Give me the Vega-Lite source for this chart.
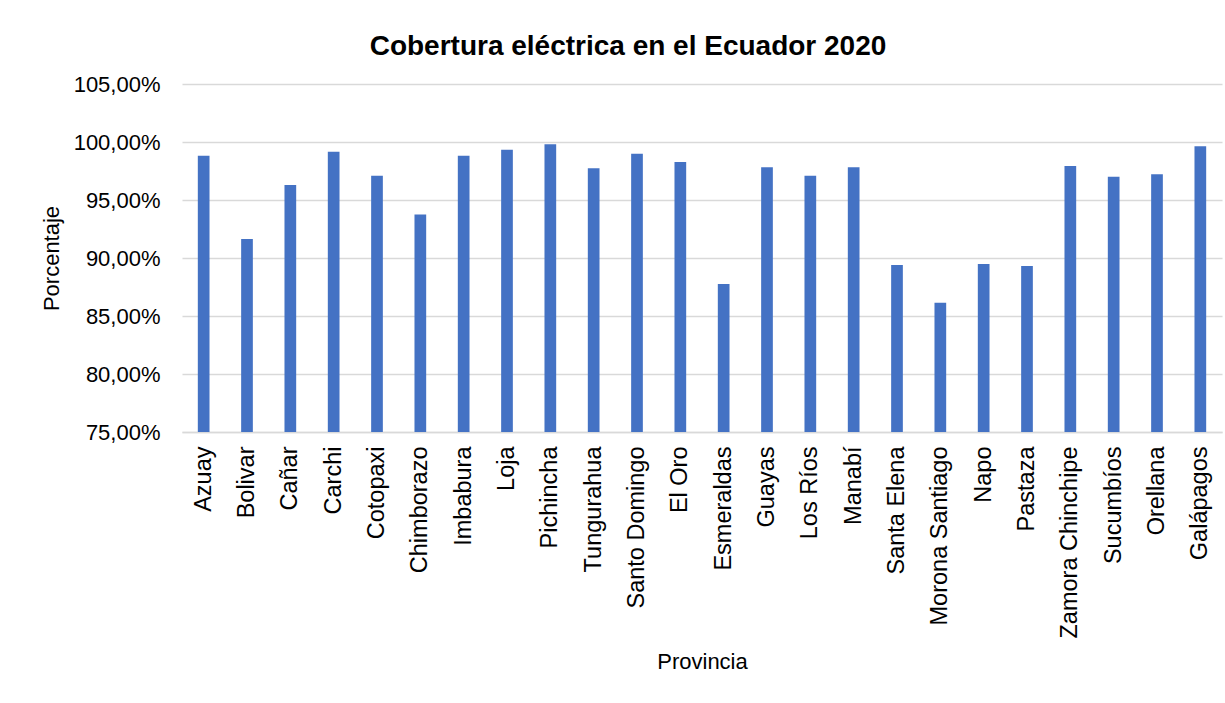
{
  "$schema": "https://vega.github.io/schema/vega-lite/v6.json",
  "width": 1040,
  "height": 348,
  "autosize": "none",
  "padding": {"left": 182, "top": 84, "right": 3, "bottom": 271},
  "background": "white",
  "title": {
    "text": "Cobertura eléctrica en el Ecuador 2020",
    "font": "Liberation Sans",
    "fontSize": 28,
    "fontWeight": "bold",
    "color": "#000000",
    "anchor": "middle",
    "frame": "group",
    "dx": -74,
    "offset": 12
  },
  "data": {
    "values": [
      {"Provincia": "Azuay", "Porcentaje": 98.82},
      {"Provincia": "Bolivar", "Porcentaje": 91.64},
      {"Provincia": "Cañar", "Porcentaje": 96.29},
      {"Provincia": "Carchi", "Porcentaje": 99.17},
      {"Provincia": "Cotopaxi", "Porcentaje": 97.10},
      {"Provincia": "Chimborazo", "Porcentaje": 93.76},
      {"Provincia": "Imbabura", "Porcentaje": 98.82},
      {"Provincia": "Loja", "Porcentaje": 99.34},
      {"Provincia": "Pichincha", "Porcentaje": 99.80},
      {"Provincia": "Tungurahua", "Porcentaje": 97.73},
      {"Provincia": "Santo Domingo", "Porcentaje": 98.99},
      {"Provincia": "El Oro", "Porcentaje": 98.28},
      {"Provincia": "Esmeraldas", "Porcentaje": 87.76},
      {"Provincia": "Guayas", "Porcentaje": 97.82},
      {"Provincia": "Los Ríos", "Porcentaje": 97.10},
      {"Provincia": "Manabí", "Porcentaje": 97.82},
      {"Provincia": "Santa Elena", "Porcentaje": 89.40},
      {"Provincia": "Morona Santiago", "Porcentaje": 86.15},
      {"Provincia": "Napo", "Porcentaje": 89.48},
      {"Provincia": "Pastaza", "Porcentaje": 89.31},
      {"Provincia": "Zamora Chinchipe", "Porcentaje": 97.93},
      {"Provincia": "Sucumbíos", "Porcentaje": 97.01},
      {"Provincia": "Orellana", "Porcentaje": 97.21},
      {"Provincia": "Galápagos", "Porcentaje": 99.63}
    ]
  },
  "mark": {"type": "bar", "color": "#4472C4", "width": {"band": 0.3}, "clip": true},
  "encoding": {
    "x": {
      "field": "Provincia",
      "type": "nominal",
      "sort": null,
      "title": "Provincia",
      "axis": {
        "labelAngle": -90,
        "labelAlign": "right",
        "labelBaseline": "middle",
        "labelFont": "Liberation Sans",
        "labelFontSize": 23.5,
        "labelLimit": 0,
        "labelColor": "#000000",
        "labelPadding": 14,
        "ticks": false,
        "tickSize": 0,
        "domain": true,
        "domainColor": "#d9d9d9",
        "domainWidth": 1.5,
        "grid": false,
        "titleFont": "Liberation Sans",
        "titleFontSize": 22,
        "titleFontWeight": "normal",
        "titleColor": "#000000",
        "titlePadding": 19
      }
    },
    "y": {
      "field": "Porcentaje",
      "type": "quantitative",
      "title": "Porcentaje",
      "scale": {"domain": [75, 105], "zero": false, "nice": false},
      "axis": {
        "values": [75, 80, 85, 90, 95, 100, 105],
        "labelExpr": "replace(format(datum.value, '.2f'), '.', ',') + '%'",
        "labelFont": "Liberation Sans",
        "labelFontSize": 22,
        "labelColor": "#000000",
        "labelPadding": 22,
        "ticks": false,
        "tickSize": 0,
        "domain": false,
        "grid": true,
        "gridColor": "#d9d9d9",
        "gridWidth": 1.5,
        "titleFont": "Liberation Sans",
        "titleFontSize": 22,
        "titleFontWeight": "normal",
        "titleColor": "#000000",
        "titlePadding": 10
      }
    }
  },
  "config": {"view": {"stroke": null}}
}
